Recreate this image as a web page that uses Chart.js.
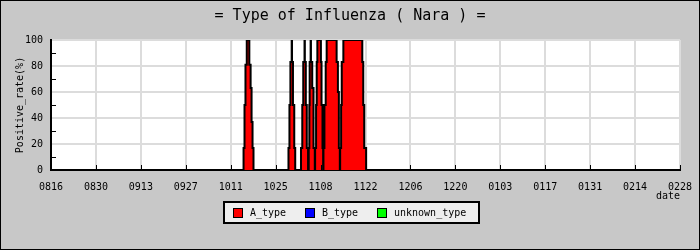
<!DOCTYPE html>
<html><head><meta charset="utf-8">
<style>html,body{margin:0;padding:0;background:#c8c8c8;}</style>
<script src="https://cdn.jsdelivr.net/npm/chart.js@4/dist/chart.umd.min.js"></script>
</head><body>
<canvas id="c" width="700" height="250" style="display:block;width:700px;height:250px"></canvas>
<script>
const titleText = '= Type of Influenza ( Nara ) =';
const yAxisTitle = 'Positive_rate(%)';
const xAxisTitle = 'date';
const tickLabels = ['0816','0830','0913','0927','1011','1025','1108','1122','1206','1220','0103','0117','0131','0214','0228'];
const seriesNames = ['A_type','B_type','unknown_type'];
const seriesColors = ['#ff0000','#0000ff','#00ff00'];

// A_type: day offset from 08/16 at which each step begins, and the positive rate (%) from there on
const aDays = [0,
  60.0, 60.3, 60.6, 61.0, 61.8, 62.2, 62.5, 62.8, 63.1,
  74.0, 74.3, 74.6, 75.0, 75.1, 75.4, 75.8, 76.1,
  77.9, 78.3, 78.6, 79.0, 79.1, 79.4, 79.7, 80.1,
  80.3, 80.5, 80.6, 80.9, 81.0, 81.4, 81.8, 82.2,
  82.3, 82.6, 82.8, 83.0, 84.1, 84.3, 84.6, 84.8,
  84.9, 85.2, 85.6, 85.9, 89.0, 89.4, 89.7, 90.0,
  90.1, 90.4, 90.6, 91.1, 97.0, 97.3, 97.6, 98.2,
  196];
const aValues = [0,
  17, 50, 81, 100, 81, 63, 37, 17, 0,
  17, 50, 83, 100, 83, 50, 17, 0,
  17, 50, 83, 100, 83, 50, 17, 0,
  17, 50, 83, 100, 83, 63, 17, 0,
  17, 50, 83, 100, 83, 50, 17, 0,
  17, 50, 83, 100, 83, 60, 17, 0,
  17, 50, 83, 100, 83, 50, 17, 0,
  0];
// B_type and unknown_type: no positives in the period
const bDays = [];
const bValues = [];
const uDays = [];
const uValues = [];

const MONO = "'DejaVu Sans Mono', monospace";
const toPts = (xs, ys) => xs.map((x, i) => ({x: x, y: ys[i]}));

const decor = {
  id: 'decor',
  beforeDraw(chart) {
    const ctx = chart.ctx, a = chart.chartArea;
    ctx.save();
    ctx.fillStyle = '#c8c8c8';
    ctx.fillRect(0, 0, chart.width, chart.height);
    ctx.fillStyle = '#ffffff';
    ctx.fillRect(a.left, a.top, a.right - a.left, a.bottom - a.top);
    ctx.restore();
  },
  afterDraw(chart) {
    const ctx = chart.ctx, a = chart.chartArea;
    const xs = chart.scales.x, ys = chart.scales.y;
    ctx.save();
    ctx.strokeStyle = '#000'; ctx.lineWidth = 1;
    for (let v = 10; v < 100; v += 20) {
      const py = Math.round(ys.getPixelForValue(v)) + 0.5;
      ctx.beginPath(); ctx.moveTo(a.left, py); ctx.lineTo(a.left + 5, py); ctx.stroke();
    }
    xs.ticks.forEach(t => {
      const px = Math.round(xs.getPixelForValue(t.value)) + 0.5;
      ctx.beginPath(); ctx.moveTo(px, a.bottom); ctx.lineTo(px, a.bottom - 5); ctx.stroke();
    });
    ctx.fillStyle = '#000';
    ctx.font = '10px ' + MONO;
    ctx.textAlign = 'right'; ctx.textBaseline = 'middle';
    ctx.fillText(xAxisTitle, a.right, 196);
    ctx.save();
    ctx.translate(20, (a.top + a.bottom) / 2);
    ctx.rotate(-Math.PI / 2);
    ctx.font = '10px ' + MONO;
    ctx.textAlign = 'center'; ctx.textBaseline = 'middle';
    ctx.fillText(yAxisTitle, 0, 0);
    ctx.restore();
    ctx.fillStyle = '#eeeeee';
    ctx.fillRect(224, 202, 255, 21);
    ctx.strokeStyle = '#000'; ctx.lineWidth = 2;
    ctx.strokeRect(224, 202, 255, 21);
    ctx.lineWidth = 1;
    ctx.font = '10px ' + MONO;
    ctx.textAlign = 'left'; ctx.textBaseline = 'middle';
    chart.data.datasets.forEach((ds, i) => {
      const x = 233 + i * 72;
      ctx.fillStyle = ds.legendColor;
      ctx.fillRect(x, 208, 10, 10);
      ctx.strokeStyle = '#000';
      ctx.strokeRect(x + 0.5, 208.5, 9, 9);
      ctx.fillStyle = '#000';
      ctx.fillText(ds.label, x + 17, 213.5);
    });
    ctx.strokeStyle = '#000'; ctx.lineWidth = 2;
    ctx.strokeRect(0, 0, chart.width, chart.height);
    ctx.restore();
  }
};

const mk = (i, xs, ys) => ({
  label: seriesNames[i],
  legendColor: seriesColors[i],
  data: toPts(xs, ys),
  stepped: true,
  fill: 'origin',
  backgroundColor: seriesColors[i],
  borderColor: '#000000',
  borderWidth: 2,
  pointRadius: 0,
  tension: 0
});

new Chart(document.getElementById('c'), {
  type: 'line',
  data: { datasets: [mk(0, aDays, aValues), mk(1, bDays, bValues), mk(2, uDays, uValues)] },
  options: {
    responsive: false,
    animation: false,
    devicePixelRatio: 1,
    layout: { padding: { left: 20, right: 20, top: 0, bottom: 0 } },
    plugins: {
      legend: { display: false },
      tooltip: { enabled: false },
      title: {
        display: true, text: titleText, color: '#000',
        font: { family: MONO, size: 15, weight: 'normal', lineHeight: '16px' },
        padding: { top: 8, bottom: 16 }
      }
    },
    scales: {
      x: {
        type: 'linear', min: 0, max: 196,
        afterFit(s) { s.height = 80; s.paddingLeft = 0; s.paddingRight = 0; },
        ticks: {
          stepSize: 14, autoSkip: false, maxRotation: 0, color: '#000', padding: 11,
          font: { family: MONO, size: 10 },
          callback: (v) => tickLabels[Math.round(v / 14)]
        },
        grid: { color: '#dcdcdc', lineWidth: 2, drawTicks: false },
        border: { display: true, color: '#000', width: 2 }
      },
      y: {
        min: 0, max: 100,
        afterFit(s) { s.width = 31; s.paddingTop = 0; s.paddingBottom = 0; },
        ticks: { stepSize: 20, color: '#000', padding: 8, font: { family: MONO, size: 10 } },
        grid: { color: '#dcdcdc', lineWidth: 2, drawTicks: false },
        border: { display: true, color: '#000', width: 2 }
      }
    }
  },
  plugins: [decor]
});
</script>
</body></html>
